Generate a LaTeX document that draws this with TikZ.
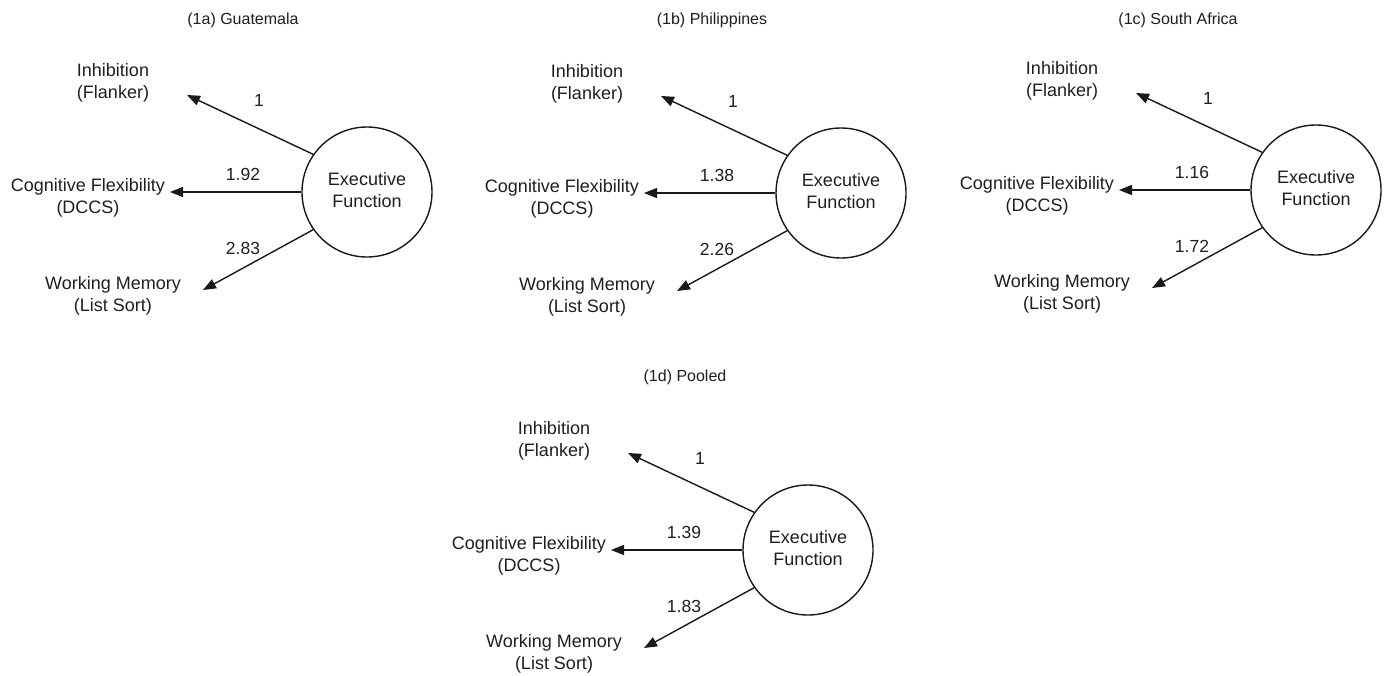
\documentclass[tikz,border=0pt]{standalone}
\usepackage{fontspec}
\setmainfont{Liberation Sans}
\usetikzlibrary{arrows.meta}
\tikzset{
  efcircle/.style={circle, draw=black!90, line width=1.4pt, minimum size=130pt, inner sep=0pt,
    align=center, text=black!88, font=\fontsize{18}{22}\selectfont},
  vartext/.style={align=center, text=black!88, font=\fontsize{18}{22}\selectfont, inner sep=0pt},
  loadlbl/.style={text=black!88, font=\fontsize{17.5}{21}\selectfont, inner sep=0pt},
  paneltitle/.style={text=black!88, font=\fontsize{16}{19}\selectfont, inner sep=0pt},
  loadarrow/.style={draw=black!90, line width=1.4pt, -{Triangle[length=13pt,width=10pt]}}
}
\newcommand\efpanel[5]{%
  \begin{scope}[shift={(#2,#3)}]
    \node[efcircle] (#1ef) at (0,0) {Executive\\Function\vphantom{g}};
    \node[vartext] (#1inh) at (-254,-109) {Inhibition\\(Flanker)};
    \node[vartext] (#1cog) at (-279,6) {Cognitive Flexibility\\(DCCS)};
    \node[vartext] (#1wm) at (-254,104) {Working Memory\\(List Sort)};
    \coordinate (#1tipa) at (-180,-97);
    \coordinate (#1tipb) at (-197,0);
    \coordinate (#1tipc) at (-164,98);
    \draw[loadarrow] (#1ef.145) -- (#1tipa);
    \draw[loadarrow] (#1ef.180) -- (#1tipb);
    \draw[loadarrow] (#1ef.215) -- (#1tipc);
    \node[loadlbl] (#1la) at (-108,-92) {1};
    \node[loadlbl] (#1lb) at (-124,-18) {#4};
    \node[loadlbl] (#1lc) at (-124,56) {#5};
  \end{scope}}
\begin{document}
\begin{tikzpicture}[x=1pt,y=-1pt]
  \path[use as bounding box] (0,0) rectangle (1388,675);
  \fill[white] (0,0) rectangle (1388,675);
  \node[paneltitle] (ta) at (243,20) {(1a) Guatemala};
  \node[paneltitle] (tb) at (712,20) {(1b) Philippines};
  \node[paneltitle] (tc) at (1178,20) {(1c) South Africa};
  \node[paneltitle] (td) at (685,377) {(1d) Pooled};
  \efpanel{a}{367}{192}{1.92}{2.83}
  \efpanel{b}{841}{193}{1.38}{2.26}
  \efpanel{c}{1316}{190}{1.16}{1.72}
  \efpanel{d}{808}{550}{1.39}{1.83}
\end{tikzpicture}
\end{document}
